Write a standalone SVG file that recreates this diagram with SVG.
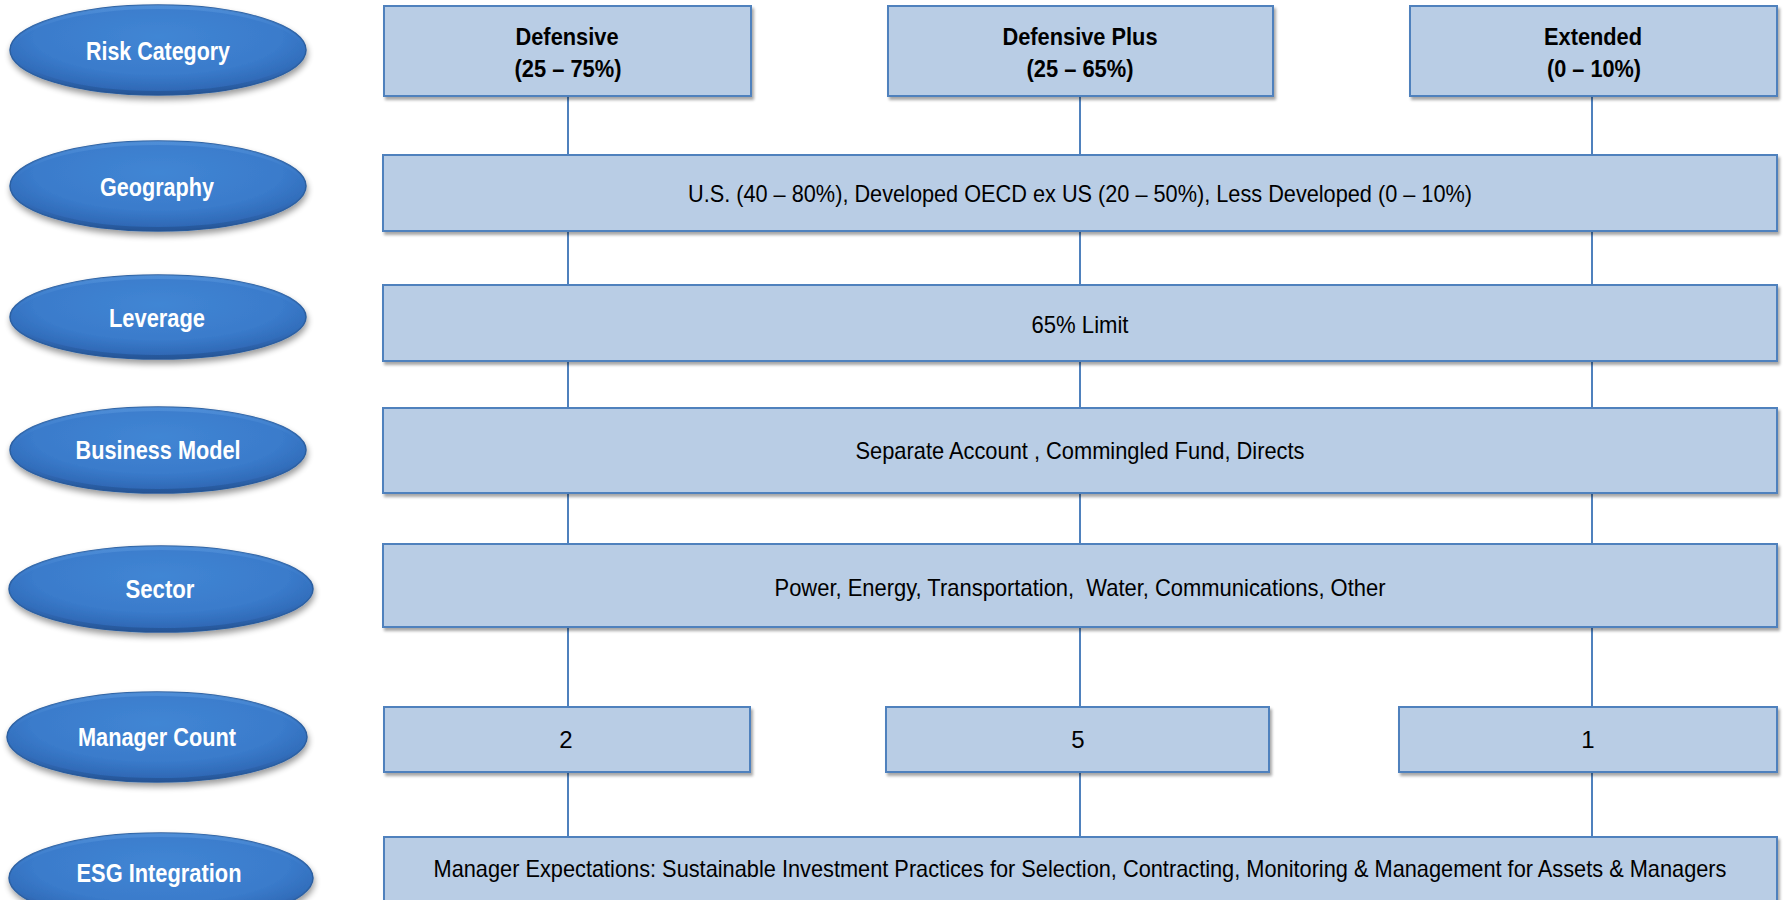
<svg xmlns="http://www.w3.org/2000/svg" width="1785" height="900" viewBox="0 0 1785 900">
  <style>
    .bg { fill: #ffffff; }
    .box { fill: #B9CDE5; stroke: #4F81BD; stroke-width: 2; filter: url(#boxShadow); }
    .pill { fill: url(#pillFill); stroke: #2C5E9F; stroke-width: 1.5; filter: url(#pillShadow); }
    .bevel { fill: none; stroke: url(#pillRim); stroke-width: 4; }
    .lbl { font-family: "Liberation Sans", Arial, sans-serif; font-weight: bold; font-size: 25px; fill: #ffffff; text-anchor: middle; }
    .hdr { font-family: "Liberation Sans", Arial, sans-serif; font-weight: bold; font-size: 24px; fill: #000000; text-anchor: middle; }
    .txt { font-family: "Liberation Sans", Arial, sans-serif; font-size: 24px; fill: #000000; text-anchor: middle; }
    .wire { stroke: #4F81BD; stroke-width: 2; fill: none; }
  </style>
  <defs>
    <radialGradient id="pillFill" cx="0.5" cy="0.35" r="0.6">
      <stop offset="0" stop-color="#4186D4"/>
      <stop offset="0.7" stop-color="#3A7BCB"/>
      <stop offset="1" stop-color="#2F69B6"/>
    </radialGradient>
    <linearGradient id="pillRim" x1="0" y1="0" x2="0" y2="1">
      <stop offset="0" stop-color="#5A98DE" stop-opacity="0.6"/>
      <stop offset="0.5" stop-color="#3A7BCB" stop-opacity="0"/>
      <stop offset="1" stop-color="#234F8E" stop-opacity="0.7"/>
    </linearGradient>
    <filter id="pillShadow" x="-10%" y="-20%" width="125%" height="150%">
      <feGaussianBlur in="SourceAlpha" stdDeviation="3"/>
      <feOffset dx="1" dy="4" result="b"/>
      <feComponentTransfer><feFuncA type="linear" slope="0.4"/></feComponentTransfer>
      <feMerge><feMergeNode/><feMergeNode in="SourceGraphic"/></feMerge>
    </filter>
    <filter id="boxShadow" x="-5%" y="-10%" width="110%" height="130%">
      <feGaussianBlur in="SourceAlpha" stdDeviation="1.5"/>
      <feOffset dx="2" dy="3" result="b"/>
      <feComponentTransfer><feFuncA type="linear" slope="0.35"/></feComponentTransfer>
      <feMerge><feMergeNode/><feMergeNode in="SourceGraphic"/></feMerge>
    </filter>
  </defs>

  <rect class="bg" x="0" y="0" width="1785" height="900"/>

  <!-- vertical links between rows -->
  <g id="connectors">
    <line class="wire" x1="568" y1="96" x2="568" y2="155"/>
    <line class="wire" x1="1080" y1="96" x2="1080" y2="155"/>
    <line class="wire" x1="1592" y1="96" x2="1592" y2="155"/>
    <line class="wire" x1="568" y1="231" x2="568" y2="285"/>
    <line class="wire" x1="1080" y1="231" x2="1080" y2="285"/>
    <line class="wire" x1="1592" y1="231" x2="1592" y2="285"/>
    <line class="wire" x1="568" y1="361" x2="568" y2="408"/>
    <line class="wire" x1="1080" y1="361" x2="1080" y2="408"/>
    <line class="wire" x1="1592" y1="361" x2="1592" y2="408"/>
    <line class="wire" x1="568" y1="493" x2="568" y2="544"/>
    <line class="wire" x1="1080" y1="493" x2="1080" y2="544"/>
    <line class="wire" x1="1592" y1="493" x2="1592" y2="544"/>
    <line class="wire" x1="568" y1="627" x2="568" y2="707"/>
    <line class="wire" x1="1080" y1="627" x2="1080" y2="707"/>
    <line class="wire" x1="1592" y1="627" x2="1592" y2="707"/>
    <line class="wire" x1="568" y1="772" x2="568" y2="837"/>
    <line class="wire" x1="1080" y1="772" x2="1080" y2="837"/>
    <line class="wire" x1="1592" y1="772" x2="1592" y2="837"/>
  </g>

  <!-- row labels -->
  <g id="label-risk">
    <ellipse class="pill" cx="158" cy="50" rx="148" ry="45"/>
    <ellipse class="bevel" cx="158" cy="50" rx="146" ry="43"/>
    <text class="lbl" x="158" y="60" textLength="144" lengthAdjust="spacingAndGlyphs">Risk Category</text>
  </g>
  <g id="label-geography">
    <ellipse class="pill" cx="158" cy="186" rx="148" ry="45"/>
    <ellipse class="bevel" cx="158" cy="186" rx="146" ry="43"/>
    <text class="lbl" x="157" y="196" textLength="114" lengthAdjust="spacingAndGlyphs">Geography</text>
  </g>
  <g id="label-leverage">
    <ellipse class="pill" cx="158" cy="317" rx="148" ry="42"/>
    <ellipse class="bevel" cx="158" cy="317" rx="146" ry="40"/>
    <text class="lbl" x="157" y="327" textLength="96" lengthAdjust="spacingAndGlyphs">Leverage</text>
  </g>
  <g id="label-business">
    <ellipse class="pill" cx="158" cy="450" rx="148" ry="43"/>
    <ellipse class="bevel" cx="158" cy="450" rx="146" ry="41"/>
    <text class="lbl" x="158" y="459" textLength="165" lengthAdjust="spacingAndGlyphs">Business Model</text>
  </g>
  <g id="label-sector">
    <ellipse class="pill" cx="161" cy="589" rx="152" ry="43"/>
    <ellipse class="bevel" cx="161" cy="589" rx="150" ry="41"/>
    <text class="lbl" x="160" y="598" textLength="69" lengthAdjust="spacingAndGlyphs">Sector</text>
  </g>
  <g id="label-managers">
    <ellipse class="pill" cx="157" cy="737" rx="150" ry="45"/>
    <ellipse class="bevel" cx="157" cy="737" rx="148" ry="43"/>
    <text class="lbl" x="157" y="746" textLength="158" lengthAdjust="spacingAndGlyphs">Manager Count</text>
  </g>
  <g id="label-esg">
    <ellipse class="pill" cx="161" cy="878" rx="152" ry="45"/>
    <ellipse class="bevel" cx="161" cy="878" rx="150" ry="43"/>
    <text class="lbl" x="159" y="882" textLength="165" lengthAdjust="spacingAndGlyphs">ESG Integration</text>
  </g>

  <!-- risk category columns -->
  <g id="risk-defensive">
    <rect class="box" x="384" y="6" width="367" height="90"/>
    <text class="hdr" x="567" y="45" textLength="103" lengthAdjust="spacingAndGlyphs">Defensive</text>
    <text class="hdr" x="568" y="77" textLength="107" lengthAdjust="spacingAndGlyphs">(25 – 75%)</text>
  </g>
  <g id="risk-defensive-plus">
    <rect class="box" x="888" y="6" width="385" height="90"/>
    <text class="hdr" x="1080" y="45" textLength="155" lengthAdjust="spacingAndGlyphs">Defensive Plus</text>
    <text class="hdr" x="1080" y="77" textLength="107" lengthAdjust="spacingAndGlyphs">(25 – 65%)</text>
  </g>
  <g id="risk-extended">
    <rect class="box" x="1410" y="6" width="367" height="90"/>
    <text class="hdr" x="1593" y="45" textLength="98" lengthAdjust="spacingAndGlyphs">Extended</text>
    <text class="hdr" x="1594" y="77" textLength="94" lengthAdjust="spacingAndGlyphs">(0 – 10%)</text>
  </g>

  <!-- full-width rows -->
  <g id="geography">
    <rect class="box" x="383" y="155" width="1394" height="76"/>
    <text class="txt" x="1080" y="202" textLength="784" lengthAdjust="spacingAndGlyphs">U.S. (40 – 80%), Developed OECD ex US (20 – 50%), Less Developed (0 – 10%)</text>
  </g>
  <g id="leverage">
    <rect class="box" x="383" y="285" width="1394" height="76"/>
    <text class="txt" x="1080" y="333" textLength="97" lengthAdjust="spacingAndGlyphs">65% Limit</text>
  </g>
  <g id="business-model">
    <rect class="box" x="383" y="408" width="1394" height="85"/>
    <text class="txt" x="1080" y="459" textLength="449" lengthAdjust="spacingAndGlyphs">Separate Account , Commingled Fund, Directs</text>
  </g>
  <g id="sector">
    <rect class="box" x="383" y="544" width="1394" height="83"/>
    <text class="txt" x="1080" y="596" textLength="611" lengthAdjust="spacingAndGlyphs" xml:space="preserve">Power, Energy, Transportation,  Water, Communications, Other</text>
  </g>

  <!-- manager counts -->
  <g id="count-defensive">
    <rect class="box" x="384" y="707" width="366" height="65"/>
    <text class="txt" x="566" y="748">2</text>
  </g>
  <g id="count-defensive-plus">
    <rect class="box" x="886" y="707" width="383" height="65"/>
    <text class="txt" x="1078" y="748">5</text>
  </g>
  <g id="count-extended">
    <rect class="box" x="1399" y="707" width="378" height="65"/>
    <text class="txt" x="1588" y="748">1</text>
  </g>

  <g id="esg">
    <rect class="box" x="384" y="837" width="1393" height="80"/>
    <text class="txt" x="1080" y="877" textLength="1293" lengthAdjust="spacingAndGlyphs">Manager Expectations: Sustainable Investment Practices for Selection, Contracting, Monitoring &amp; Management for Assets &amp; Managers</text>
  </g>
</svg>
